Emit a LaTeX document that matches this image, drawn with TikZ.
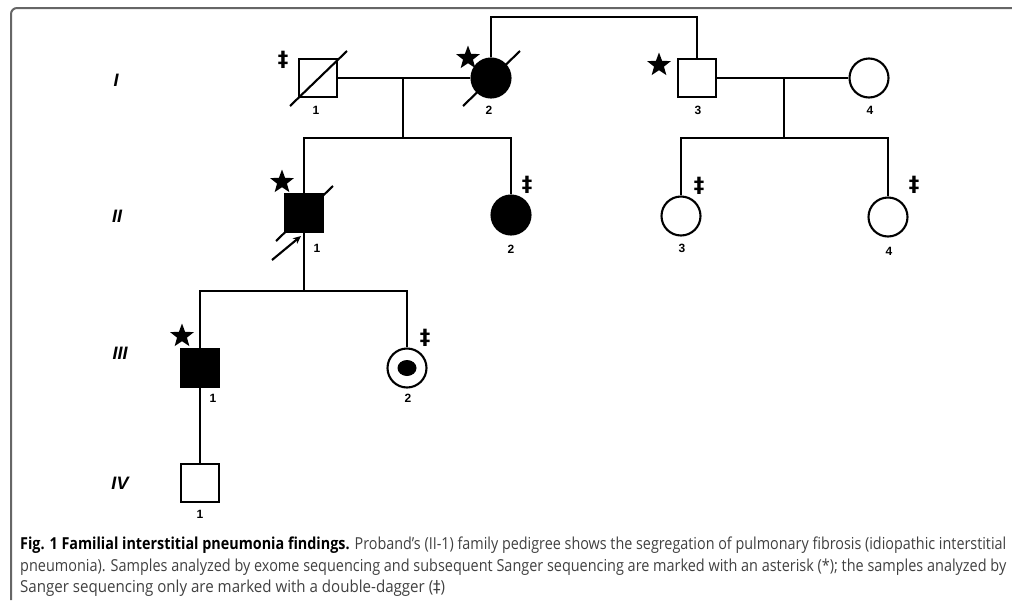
\documentclass[tikz,border=0pt]{standalone}
\usepackage{fontspec}
\setmainfont{Liberation Sans}
\newfontfamily\capfont{Open Sans}
\newfontfamily\dagfont{DejaVu Sans}
\usetikzlibrary{shapes.geometric,arrows.meta}
\tikzset{
  ped/.style={line width=2.1pt},
  male/.style={ped,draw,rectangle,minimum size=38pt,inner sep=0pt},
  female/.style={ped,draw,circle,minimum size=39pt,inner sep=0pt},
  affected/.style={fill=black},
  gen/.style={font=\fontsize{18}{18}\selectfont\bfseries\itshape},
  idnum/.style={font=\fontsize{12}{12}\selectfont\bfseries},
  exome/.style={star,star points=5,star point ratio=2.4,fill=black,minimum size=25pt,inner sep=0pt},
  sanger/.style={font=\dagfont\fontsize{21}{21}\selectfont\bfseries},
  capline/.style={anchor=base west,inner sep=0pt,text=black!75,font=\capfont\fontsize{16.5}{20}\selectfont},
  frame/.style={draw=black!60,line width=2pt,rounded corners=6pt},
}
\newcommand{\deceased}[1]{\draw[ped] ([shift={(-28,28)}]#1.center) -- ([shift={(29,-27)}]#1.center);}

\begin{document}
\begin{tikzpicture}[x=1pt,y=-1pt]
\useasboundingbox (0,0) rectangle (1012,600);
\draw[frame] (11,600) -- (11,8) -- (1012,8);

% generation labels
\node[gen] (genI) at (116,80) {I};
\node[gen] (genII) at (117,216) {II};
\node[gen] (genIII) at (120,353) {III};
\node[gen] (genIV) at (120,483) {IV};

% generation I
\node[male] (i1) at (318,78) {};
\node[female,affected] (i2) at (491,78) {};
\node[male] (i3) at (697,78) {};
\node[female] (i4) at (869,78) {};
\deceased{i1}
\deceased{i2}

% generation II
\node[male,affected] (ii1) at (304,213) {};
\node[female,affected] (ii2) at (511,215) {};
\node[female] (ii3) at (681,216) {};
\node[female] (ii4) at (888,217) {};
\deceased{ii1}
\coordinate (arrowtail) at (272,260);
\draw[ped,-{Stealth[length=8pt,width=7pt]}] (arrowtail) -- ([shift={(-3,23)}]ii1.center);

% generation III
\node[male,affected] (iii1) at (200,368) {};
\node[female] (iii2) at (407,368) {};
\node[ellipse,fill=black,minimum width=19pt,minimum height=16pt,inner sep=0pt] (iii2dot) at (iii2.center) {};

% generation IV
\node[male] (iv1) at (200,483) {};

% lines of descent
\coordinate (top) at (600,17);
\draw[ped] (i2.north) -- (i2.north |- top) -| (i3.north);
\draw[ped] (i1.east) -- (i2.west);
\coordinate (m1) at (403,78);
\coordinate (s1) at (403,138);
\draw[ped] (m1) -- (s1);
\draw[ped] (ii1.north) -- (ii1.north |- s1) -- (ii2.north |- s1) -- (ii2.north);
\draw[ped] (i3.east) -- (i4.west);
\coordinate (m2) at (784,78);
\coordinate (s3) at (784,138);
\draw[ped] (m2) -- (s3);
\draw[ped] (ii3.north) -- (ii3.north |- s3) -- (ii4.north |- s3) -- (ii4.north);
\coordinate (s2) at (304,291);
\draw[ped] (ii1.south) -- (s2);
\draw[ped] (iii1.north) -- (iii1.north |- s2) -- (iii2.north |- s2) -- (iii2.north);
\draw[ped] (iii1.south) -- (iv1.north);

% exome + Sanger
\node[exome] (i2s) at (468,58) {};
\node[exome] (i3s) at (659,65) {};
\node[exome] (ii1s) at (282,182) {};
\node[exome] (iii1s) at (182,336) {};

% Sanger only
\node[sanger] (i1d) at (283,60) {‡};
\node[sanger] (ii2d) at (527,185) {‡};
\node[sanger] (ii3d) at (699,186) {‡};
\node[sanger] (ii4d) at (914,185) {‡};
\node[sanger] (iii2d) at (425,338) {‡};

% individual numbers
\node[idnum] (i1n) at (316,110) {1};
\node[idnum] (i2n) at (489,110) {2};
\node[idnum] (i3n) at (698,110) {3};
\node[idnum] (i4n) at (870,110) {4};
\node[idnum] (ii1n) at (317,248) {1};
\node[idnum] (ii2n) at (511,249) {2};
\node[idnum] (ii3n) at (682,248) {3};
\node[idnum] (ii4n) at (889,251) {4};
\node[idnum] (iii1n) at (213,398) {1};
\node[idnum] (iii2n) at (408,398) {2};
\node[idnum] (iv1n) at (200,514) {1};

% caption
\node[capline] (cap1) at (20,549) {\resizebox{986pt}{\height}{{\color{black}\bfseries Fig. 1 Familial interstitial pneumonia findings.} Proband’s (II-1) family pedigree shows the segregation of pulmonary fibrosis (idiopathic interstitial}};
\node[capline] (cap2) at (20,571) {\resizebox{986pt}{\height}{pneumonia). Samples analyzed by exome sequencing and subsequent Sanger sequencing are marked with an asterisk (*); the samples analyzed by}};
\node[capline] (cap3) at (20,592) {\resizebox{425pt}{\height}{Sanger sequencing only are marked with a double-dagger ({\dagfont ‡})}};
\end{tikzpicture}
\end{document}
